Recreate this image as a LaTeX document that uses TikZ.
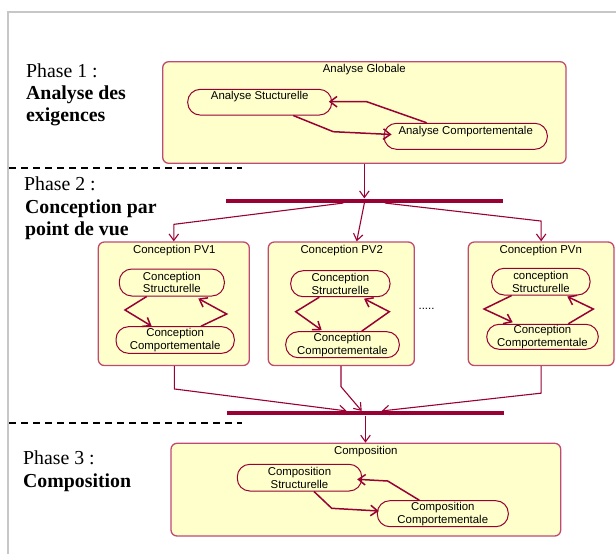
\documentclass[tikz,border=0pt]{standalone}
\usepackage{fontspec}
\setmainfont{Liberation Serif}
\newfontfamily\arialf{Liberation Sans}
\usetikzlibrary{arrows.meta,calc}
\definecolor{roseborder}{HTML}{C04A72}
\definecolor{mrn}{HTML}{990033}
\definecolor{pale}{HTML}{FFFFCC}
\tikzset{
  phase/.style={font=\fontsize{19.8}{22}\selectfont, anchor=base west, inner sep=0},
  grp/.style={draw=roseborder, fill=pale, line width=1.3pt, rounded corners=6pt, inner sep=0},
  grptitle/.style={font=\arialf\fontsize{11.4}{13}\selectfont, anchor=base, inner sep=0},
  pill/.style={draw=mrn, fill=pale, line width=1pt, rounded corners=12.5pt, inner sep=0, align=center, font=\arialf\fontsize{11.4}{12.8}\selectfont},
  pillone/.style={draw=mrn, fill=pale, line width=1pt, rounded corners=12.5pt, inner sep=0, font=\arialf\fontsize{11.4}{12.8}\selectfont, text height=8pt, text depth=12.5pt},
  bar/.style={fill=mrn, inner sep=0, minimum height=4.3pt},
  flow/.style={draw=mrn, line width=1.1pt, -{Straight Barb[length=6.5pt,width=9.5pt]}},
  loop/.style={draw=mrn, line width=1.5pt, -{Straight Barb[length=7pt,width=10.5pt]}},
  sep/.style={draw=black, line width=1.8pt, dash pattern=on 7pt off 5pt},
  frame/.style={draw=black!22, line width=1.5pt}
}
\begin{document}
\begin{tikzpicture}[x=1pt,y=-1pt]
\useasboundingbox (0,0) rectangle (616,554);
% outer frame
\draw[frame] (8,554) -- (8,12) -- (616,12);

% phase labels
\node[phase] (p1a) at (26,77.5) {Phase 1 :};
\node[phase] (p1b) at (26,99.5) {\textbf{Analyse des}};
\node[phase] (p1c) at (26,121.5) {\textbf{exigences}};
\node[phase] (p2a) at (24,190) {Phase 2 :};
\node[phase] (p2b) at (25,213) {\textbf{Conception par}};
\node[phase] (p2c) at (25,235.5) {\textbf{point de vue}};
\node[phase] (p3a) at (23,464.3) {Phase 3 :};
\node[phase] (p3b) at (23,487.7) {\textbf{Composition}};

% separators
\draw[sep] (9,168.3) -- (242,168.3);
\draw[sep] (9,422.7) -- (242,422.7);

% group boxes
\node[grp, minimum width=403.3pt, minimum height=101.6pt] (AG) at (364.35,112.5) {};
\node[grptitle] (AGt) at ($(AG.north)+(0,11.8)$) {Analyse Globale};
\node[grp, minimum width=151pt, minimum height=123.5pt] (PV1) at (173.8,303.75) {};
\node[grptitle] (PV1t) at ($(PV1.north)+(0.5,11.8)$) {Conception PV1};
\node[grp, minimum width=146pt, minimum height=123.5pt] (PV2) at (341.3,303.75) {};
\node[grptitle] (PV2t) at ($(PV2.north)+(0.4,11.8)$) {Conception PV2};
\node[grp, minimum width=145.7pt, minimum height=123.5pt] (PVn) at (541.15,303.75) {};
\node[grptitle] (PVnt) at ($(PVn.north)+(-0.4,11.8)$) {Conception PVn};
\node[grp, minimum width=389.7pt, minimum height=92.7pt] (CO) at (365.85,489.65) {};
\node[grptitle] (COt) at ($(CO.north)+(0,11.5)$) {Composition};

% bars
\node[bar, minimum width=277.3pt] (bar1) at (364.65,200.7) {};
\node[bar, minimum width=277.6pt] (bar2) at (365.5,413.3) {};

% pills phase 1
\node[pillone, minimum width=144pt, minimum height=25.7pt] (AS) at (259.7,102.2) {Analyse Stucturelle};
\node[pillone, minimum width=163.3pt, minimum height=26pt] (AC) at (465.7,136.3) {Analyse Comportementale};

% pills phase 2
\node[pill, minimum width=105pt, minimum height=27pt] (S1) at (171.8,282.5) {Conception\\Structurelle};
\node[pill, minimum width=118.3pt, minimum height=26.6pt] (C1) at (175.15,340) {Conception\\Comportementale};
\node[pill, minimum width=99.3pt, minimum height=26pt] (S2) at (340.35,283.7) {Conception\\Structurelle};
\node[pill, minimum width=113.6pt, minimum height=26pt] (C2) at (342.5,344.7) {Conception\\Comportementale};
\node[pill, minimum width=98.3pt, minimum height=26.7pt] (Sn) at (540.85,281.65) {conception\\Structurelle};
\node[pill, minimum width=111.6pt, minimum height=25pt] (Cn) at (542.5,336.8) {Conception\\Comportementale};
\node[grptitle] (dots) at (426.5,309.5) {.....};

% pills phase 3
\node[pill, minimum width=124.4pt, minimum height=26.7pt] (CS) at (299.5,477.65) {Composition\\Structurelle};
\node[pill, minimum width=131pt, minimum height=26pt] (CC) at (442.8,513.7) {Composition\\Comportementale};

% phase 1 internal arrows
\draw[loop] ($(AS.south)+(33.6,0)$) -- (333.3,131.7) -- ($(AC.west)+(8,-1.8)$);
\draw[loop] ($(AC.north)+(-39,0)$) -- (366.7,101.7) -- ($(AS.east)+(-3.4,-0.5)$);

% fork / join
\draw[flow] (AG.south) -- (AG.south |- bar1.north);
\draw[flow] ($(bar1.south)+(-21.35,0)$) -- ($(PV1.north)+(0,-17)$) -- (PV1.north);
\draw[flow] ($(bar1.south)+(-0.3,0)$) -- ($(PV2.north)+(15.4,0)$);
\draw[flow] ($(bar1.south)+(20.35,0)$) -- ($(PVn.north)+(0,-20.3)$) -- (PVn.north);

\draw[flow] ($(PV1.south)+(0.5,0)$) -- ($(PV1.south)+(0.5,22.8)$) -- ($(bar2.north)+(-18.8,0)$);
\draw[flow] ($(PV2.south)+(-0.3,0)$) -- ($(PV2.south)+(-0.3,20.5)$) -- ($(bar2.north)+(-3.8,0)$);
\draw[flow] (PVn.south) -- ($(PVn.south)+(0,27)$) -- ($(bar2.north)+(16.2,0)$);
\draw[flow] (bar2.south) -- (bar2.south |- CO.north);

% phase 2 internal arrows
\draw[loop] ($(S1.south)+(-25.1,0)$) -- (125,310) -- ($(C1.north)+(-23.45,0)$);
\draw[loop] ($(C1.north)+(25.85,0)$) -- (226.7,314) -- ($(S1.south)+(26.5,2)$);
\draw[loop] ($(S2.south)+(-21.05,0)$) -- (295.7,311.7) -- ($(C2.north)+(-20.8,-1)$);
\draw[loop] ($(C2.north)+(19.2,0)$) -- (389.3,311.7) -- ($(S2.south)+(23.65,1.5)$);
\draw[loop] ($(Sn.south)+(-29.15,0)$) -- (484,309) -- ($(Cn.north)+(-29.8,-1.5)$);
\draw[loop] ($(Cn.north)+(25.8,0)$) -- (593.3,309) -- ($(Sn.south)+(26.45,1)$);

% phase 3 internal arrows
\draw[loop] ($(CS.south)+(14.5,0)$) -- (331.7,508.3) -- ($(CC.west)+(2,-2.7)$);
\draw[loop] ($(CC.north)+(-23.5,0)$) -- (387.7,481) -- ($(CS.east)+(-5,1.65)$);
\end{tikzpicture}
\end{document}
